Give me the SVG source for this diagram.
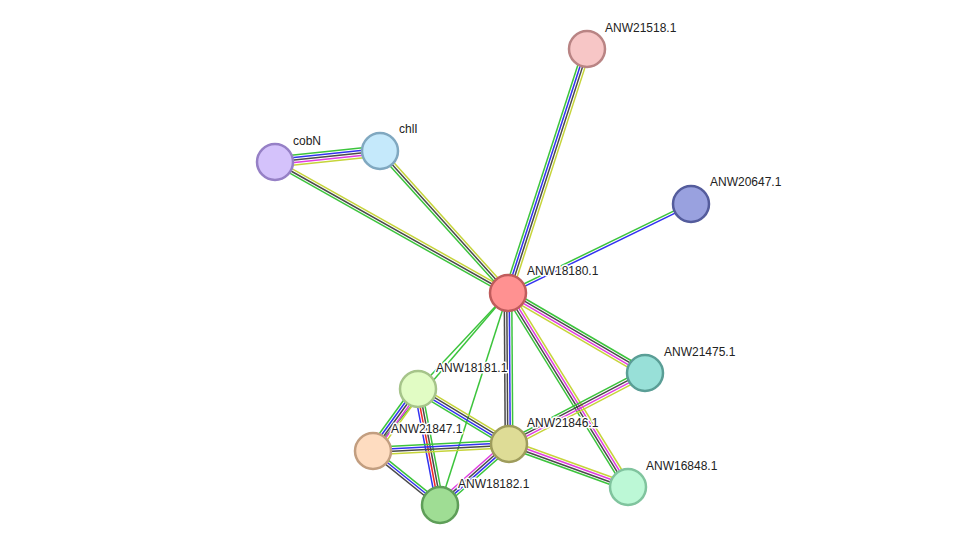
<svg xmlns="http://www.w3.org/2000/svg" width="976" height="551" viewBox="0 0 976 551">
<style>
line{stroke-width:1.5;fill:none}
.g{stroke:#3cc43c}.b{stroke:#3232f0}.k{stroke:#4a4a4a}.m{stroke:#e03ce0}.y{stroke:#c6d43a}.r{stroke:#f02828}
circle{stroke-width:2.5}
text{font-family:"Liberation Sans",Arial,sans-serif;font-size:12px;fill:#222;stroke:#fff;stroke-width:3;paint-order:stroke;stroke-linejoin:round}
</style>
<rect width="976" height="551" fill="#fff"/>
<g id="connectors">
 <!-- cobN - chlI -->
 <g transform="translate(275 162) rotate(-5.98)">
  <line class="g" x1="0" y1="-5" x2="105.6" y2="-5"/><line class="b" x1="0" y1="-2.5" x2="105.6" y2="-2.5"/><line class="k" x1="0" y1="0" x2="105.6" y2="0"/><line class="m" x1="0" y1="2.5" x2="105.6" y2="2.5"/><line class="y" x1="0" y1="5" x2="105.6" y2="5"/>
 </g>
 <!-- cobN - 18180 -->
 <g transform="translate(275 162) rotate(29.35)">
  <line class="y" x1="0" y1="-2.5" x2="267.3" y2="-2.5"/><line class="k" x1="0" y1="0" x2="267.3" y2="0"/><line class="g" x1="0" y1="2.5" x2="267.3" y2="2.5"/>
 </g>
 <!-- chlI - 18180 -->
 <g transform="translate(380 151) rotate(47.97)">
  <line class="y" x1="0" y1="-2.5" x2="191.2" y2="-2.5"/><line class="k" x1="0" y1="0" x2="191.2" y2="0"/><line class="g" x1="0" y1="2.5" x2="191.2" y2="2.5"/>
 </g>
 <!-- 18180 - 21518 -->
 <g transform="translate(508 293) rotate(-72.06)">
  <line class="g" x1="0" y1="-3.75" x2="256.5" y2="-3.75"/><line class="b" x1="0" y1="-1.25" x2="256.5" y2="-1.25"/><line class="k" x1="0" y1="1.25" x2="256.5" y2="1.25"/><line class="y" x1="0" y1="3.75" x2="256.5" y2="3.75"/>
 </g>
 <!-- 18180 - 20647 -->
 <g transform="translate(508 293) rotate(-25.93)">
  <line class="g" x1="0" y1="-1.25" x2="203.5" y2="-1.25"/><line class="b" x1="0" y1="1.25" x2="203.5" y2="1.25"/>
 </g>
 <!-- 18180 - 21475 -->
 <g transform="translate(508 293) rotate(30.28)">
  <line class="g" x1="0" y1="-3.75" x2="158.6" y2="-3.75"/><line class="k" x1="0" y1="-1.25" x2="158.6" y2="-1.25"/><line class="m" x1="0" y1="1.25" x2="158.6" y2="1.25"/><line class="y" x1="0" y1="3.75" x2="158.6" y2="3.75"/>
 </g>
 <!-- 18180 - 16848 -->
 <g transform="translate(508 293) rotate(58.26)">
  <line class="y" x1="0" y1="-3.75" x2="228.1" y2="-3.75"/><line class="m" x1="0" y1="-1.25" x2="228.1" y2="-1.25"/><line class="k" x1="0" y1="1.25" x2="228.1" y2="1.25"/><line class="g" x1="0" y1="3.75" x2="228.1" y2="3.75"/>
 </g>
 <!-- 18180 - 21846 -->
 <g transform="translate(508 293) rotate(89.62)">
  <line class="g" x1="0" y1="-3.75" x2="151" y2="-3.75"/><line class="b" x1="0" y1="-1.25" x2="151" y2="-1.25"/><line class="k" x1="0" y1="1.25" x2="151" y2="1.25"/><line class="k" x1="0" y1="3.75" x2="151" y2="3.75"/>
 </g>
 <!-- 18180 single green -->
 <line class="g" x1="508" y1="293" x2="418" y2="389"/>
 <line class="g" x1="508" y1="293" x2="373" y2="451"/>
 <line class="g" x1="508" y1="293" x2="440" y2="505"/>
 <!-- 21475 - 21846 -->
 <g transform="translate(509 444) rotate(-27.57)">
  <line class="g" x1="0" y1="-3.75" x2="153.4" y2="-3.75"/><line class="k" x1="0" y1="-1.25" x2="153.4" y2="-1.25"/><line class="m" x1="0" y1="1.25" x2="153.4" y2="1.25"/><line class="y" x1="0" y1="3.75" x2="153.4" y2="3.75"/>
 </g>
 <!-- 21846 - 16848 -->
 <g transform="translate(509 444) rotate(19.87)">
  <line class="y" x1="0" y1="-3.75" x2="126.5" y2="-3.75"/><line class="m" x1="0" y1="-1.25" x2="126.5" y2="-1.25"/><line class="k" x1="0" y1="1.25" x2="126.5" y2="1.25"/><line class="g" x1="0" y1="3.75" x2="126.5" y2="3.75"/>
 </g>
 <!-- 18181 - 21846 -->
 <g transform="translate(418 389) rotate(31.15)">
  <line class="y" x1="0" y1="-3.75" x2="106.3" y2="-3.75"/><line class="k" x1="0" y1="-1.25" x2="106.3" y2="-1.25"/><line class="b" x1="0" y1="1.25" x2="106.3" y2="1.25"/><line class="g" x1="0" y1="3.75" x2="106.3" y2="3.75"/>
 </g>
 <!-- 18181 - 21847 -->
 <g transform="translate(418 389) rotate(125.97)">
  <line class="y" x1="0" y1="-5" x2="76.6" y2="-5"/><line class="m" x1="0" y1="-2.5" x2="76.6" y2="-2.5"/><line class="k" x1="0" y1="0" x2="76.6" y2="0"/><line class="b" x1="0" y1="2.5" x2="76.6" y2="2.5"/><line class="g" x1="0" y1="5" x2="76.6" y2="5"/>
 </g>
 <!-- 18181 - 18182 -->
 <g transform="translate(418 389) rotate(79.26)">
  <line class="g" x1="0" y1="-3.75" x2="118.1" y2="-3.75"/><line class="k" x1="0" y1="-1.25" x2="118.1" y2="-1.25"/><line class="r" x1="0" y1="1.25" x2="118.1" y2="1.25"/><line class="b" x1="0" y1="3.75" x2="118.1" y2="3.75"/>
 </g>
 <!-- 21847 - 21846 -->
 <g transform="translate(373 451) rotate(-2.95)">
  <line class="g" x1="0" y1="-3.75" x2="136.2" y2="-3.75"/><line class="b" x1="0" y1="-1.25" x2="136.2" y2="-1.25"/><line class="k" x1="0" y1="1.25" x2="136.2" y2="1.25"/><line class="y" x1="0" y1="3.75" x2="136.2" y2="3.75"/>
 </g>
 <!-- 21847 - 18182 -->
 <g transform="translate(373 451) rotate(38.86)">
  <line class="g" x1="0" y1="-2.5" x2="86.1" y2="-2.5"/><line class="b" x1="0" y1="0" x2="86.1" y2="0"/><line class="k" x1="0" y1="2.5" x2="86.1" y2="2.5"/>
 </g>
 <!-- 18182 - 21846 -->
 <g transform="translate(440 505) rotate(-41.48)">
  <line class="m" x1="0" y1="-3.75" x2="92.1" y2="-3.75"/><line class="k" x1="0" y1="-1.25" x2="92.1" y2="-1.25"/><line class="b" x1="0" y1="1.25" x2="92.1" y2="1.25"/><line class="g" x1="0" y1="3.75" x2="92.1" y2="3.75"/>
 </g>
</g>
<g id="ANW21518.1"><circle cx="587" cy="49" r="18" fill="#f7c6c6" stroke="#b98484"/><text x="605" y="32">ANW21518.1</text></g>
<g id="ANW20647.1"><circle cx="691" cy="204" r="18" fill="#99a1df" stroke="#545c9c"/><text x="710" y="186">ANW20647.1</text></g>
<g id="cobN"><circle cx="275" cy="162" r="18" fill="#d4c2fb" stroke="#9680c6"/><text x="293" y="145">cobN</text></g>
<g id="chlI"><circle cx="380" cy="151" r="18" fill="#c5e9fb" stroke="#80a8c0"/><text x="399" y="133">chlI</text></g>
<g id="ANW18180.1"><circle cx="508" cy="293" r="18" fill="#ff9191" stroke="#c05c5c"/><text x="527" y="275">ANW18180.1</text></g>
<g id="ANW21475.1"><circle cx="645" cy="373" r="18" fill="#98e0d8" stroke="#5a9e96"/><text x="664" y="356">ANW21475.1</text></g>
<g id="ANW18181.1"><circle cx="418" cy="389" r="18" fill="#e1fcc4" stroke="#a6c48a"/><text x="436" y="372">ANW18181.1</text></g>
<g id="ANW21847.1"><circle cx="373" cy="451" r="18" fill="#fedcc0" stroke="#c29e80"/><text x="391" y="433">ANW21847.1</text></g>
<g id="ANW21846.1"><circle cx="509" cy="444" r="18" fill="#dedc96" stroke="#9e9c5c"/><text x="527" y="427">ANW21846.1</text></g>
<g id="ANW18182.1"><circle cx="440" cy="505" r="18" fill="#9fdd94" stroke="#5e9e58"/><text x="458" y="488">ANW18182.1</text></g>
<g id="ANW16848.1"><circle cx="628" cy="487" r="18" fill="#bcf8d6" stroke="#80c49e"/><text x="646" y="470">ANW16848.1</text></g>
</svg>
